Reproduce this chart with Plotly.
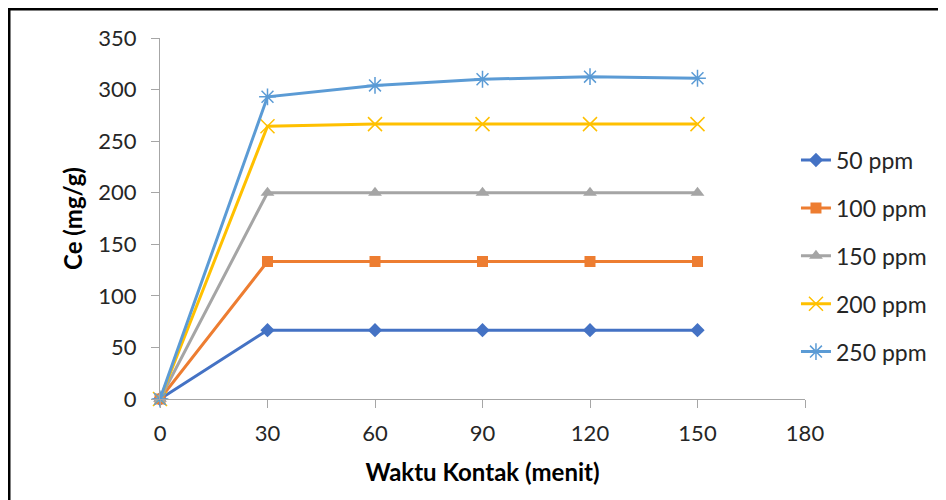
import plotly.graph_objects as go

waktu = [0, 30, 60, 90, 120, 150]
ppm50 = [0, 66.7, 66.7, 66.7, 66.7, 66.7]
ppm100 = [0, 133.3, 133.3, 133.3, 133.3, 133.3]
ppm150 = [0, 200, 200, 200, 200, 200]
ppm200 = [0, 264.5, 266.5, 266.5, 266.5, 266.5]
ppm250 = [0, 293, 304, 310, 312.5, 311]
names = ["50 ppm", "100 ppm", "150 ppm", "200 ppm", "250 ppm"]
x_ticks = [0, 30, 60, 90, 120, 150, 180]
y_ticks = [0, 50, 100, 150, 200, 250, 300, 350]

series = [ppm50, ppm100, ppm150, ppm200, ppm250]
colors = ["#4472C4", "#ED7D31", "#A5A5A5", "#FFC000", "#5B9BD5"]
symbols = ["diamond", "square", "triangle-up", "x-thin-open", "asterisk-open"]
sizes = [11, 11, 12, 14, 14]

fig = go.Figure()
for i, (nm, ys) in enumerate(zip(names, series)):
    open_sym = symbols[i].endswith("open")
    fig.add_trace(go.Scatter(
        x=waktu, y=ys, name=nm, mode="lines+markers",
        legendgroup=nm,
        line=dict(color=colors[i], width=3),
        marker=dict(symbol=symbols[i], size=sizes[i], color=colors[i],
                    line=dict(color=colors[i], width=1.5 if open_sym else 0)),
        cliponaxis=False,
    ))

L, T, PW, PH = 152, 30, 645, 361
font_main = "Lato, 'Open Sans', sans-serif"
fig.update_layout(
    width=946, height=500,
    margin=dict(l=L, r=946 - L - PW, t=T, b=500 - T - PH),
    plot_bgcolor="white", paper_bgcolor="white",
    font=dict(family=font_main, size=22, color="#262626"),
    showlegend=True,
    legend=dict(x=0.986, xanchor="left", y=0.396, yanchor="middle",
                tracegroupgap=15, font=dict(size=23, color="#262626"),
                bgcolor="rgba(0,0,0,0)"),
    xaxis=dict(range=[0, 180], tickvals=x_ticks, ticks="outside", ticklen=8,
               tickcolor="#A6A6A6", showline=True, linecolor="#A6A6A6", linewidth=1,
               showgrid=False, zeroline=False, tickfont=dict(size=22), ticklabelstandoff=7,
               title=dict(text="<b>Waktu Kontak (menit)</b>", font=dict(size=24, color="#000000"), standoff=18)),
    yaxis=dict(range=[0, 350], tickvals=y_ticks, ticks="outside", ticklen=8,
               tickcolor="#A6A6A6", showline=True, linecolor="#A6A6A6", linewidth=1,
               showgrid=False, zeroline=False, tickfont=dict(size=22), ticklabelstandoff=10,
               title=dict(text="<b>Ce (mg/g)</b>", font=dict(size=24, color="#000000"), standoff=8)),
    shapes=[dict(type="rect", xref="paper", yref="paper",
                 x0=(1 - L) / PW, x1=2, y0=-2, y1=(T + PH - 1) / PH,
                 line=dict(color="black", width=3), fillcolor="rgba(0,0,0,0)", layer="below")],
)
fig.write_html("out.html")
